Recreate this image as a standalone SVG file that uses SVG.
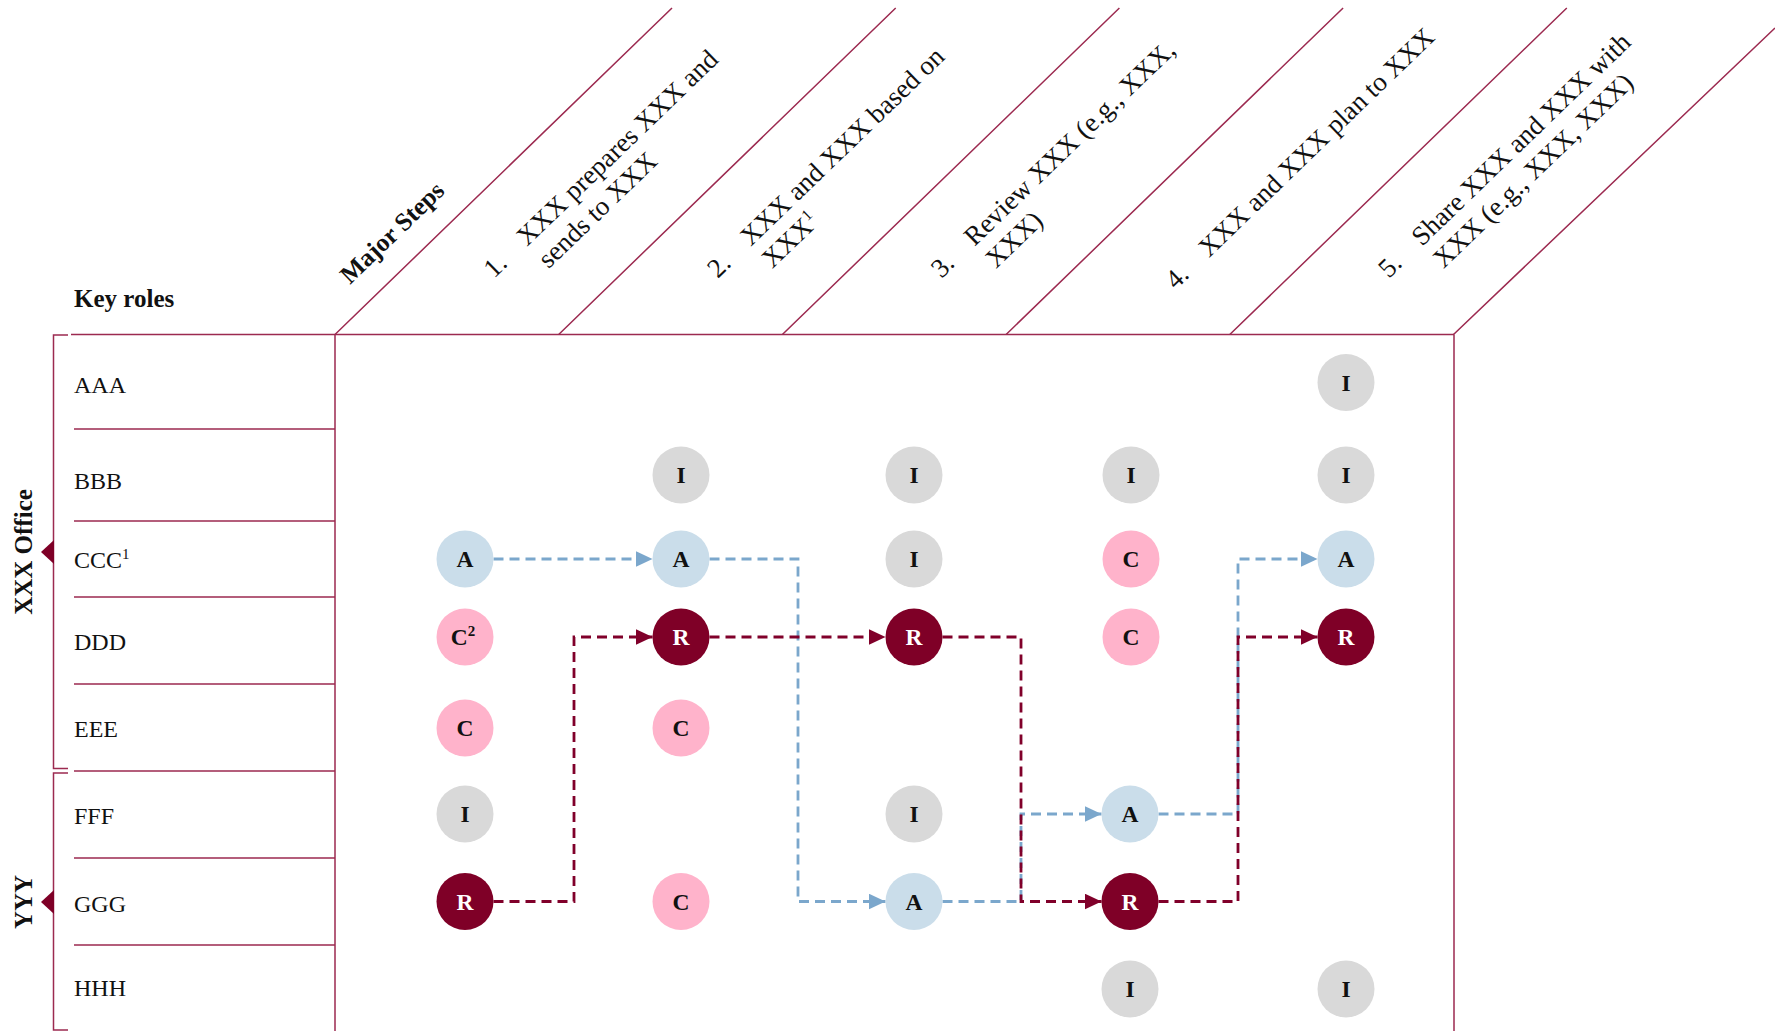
<svg xmlns="http://www.w3.org/2000/svg" width="1775" height="1031" viewBox="0 0 1775 1031">
<defs>
<style>
text { font-family: "Liberation Serif", "Times New Roman", serif; fill:#111; }
.grid { stroke:#9C2A50; stroke-width:1.5; fill:none; }
.role { font-size:24px; }
.hdr { font-size:27px; }
.b { font-weight:bold; }
.cA { fill:#CADDEA; }
.cC { fill:#FFB3CB; }
.cR { fill:#7F0027; }
.cI { fill:#D9D9D9; }
.lbl { font-size:23.5px; font-weight:bold; text-anchor:middle; }
.w { fill:#FFFFFF; }
.cb { stroke:#7BA7CC; stroke-width:2.8; stroke-dasharray:10 6; fill:none; marker-end:url(#ab); }
.cr { stroke:#80002A; stroke-width:2.8; stroke-dasharray:10 6; fill:none; marker-end:url(#ar); }
</style>
<marker id="ab" markerUnits="userSpaceOnUse" markerWidth="17" markerHeight="16" refX="17" refY="8" orient="auto"><path d="M0,0 L17,8 L0,16 z" fill="#7BA7CC"/></marker>
<marker id="ar" markerUnits="userSpaceOnUse" markerWidth="17" markerHeight="16" refX="17" refY="8" orient="auto"><path d="M0,0 L17,8 L0,16 z" fill="#80002A"/></marker>
</defs>
<rect width="1775" height="1031" fill="#FFFFFF"/>

<g id="grid">
<path class="grid" d="M71,334.5 H1454 M335,334.5 V1031 M1454,334.5 V1031"/>
<path class="grid" d="M74,429 H335 M74,521 H335 M74,597 H335 M74,684 H335 M74,771 H335 M74,858 H335 M74,945 H335"/>
<path class="grid" d="M335,334.5 L672,8 M558.7,334.5 L895.7,8 M782.4,334.5 L1119.4,8 M1006.1,334.5 L1343.1,8 M1229.8,334.5 L1566.8,8 M1453.5,334.5 L1775,28"/>
</g>

<g id="group-xxx-office">
<path class="grid" d="M68,335 H53.5 V768.5 H68"/>
<path d="M41,552 L54,540 L54,564 Z" fill="#7F0027"/>
<text class="b" font-size="25" transform="translate(32,552) rotate(-90)" text-anchor="middle">XXX Office</text>
</g>
<g id="group-yyy">
<path class="grid" d="M68,773 H53.5 V1030 H68"/>
<path d="M41,902 L54,890 L54,914 Z" fill="#7F0027"/>
<text class="b" font-size="25" transform="translate(32,902) rotate(-90)" text-anchor="middle">YYY</text>
</g>

<g id="roles">
<text class="b" font-size="25" x="74" y="307">Key roles</text>
<text class="role" x="74" y="393">AAA</text>
<text class="role" x="74" y="489">BBB</text>
<text class="role" x="74" y="568">CCC<tspan font-size="15" dy="-9">1</tspan></text>
<text class="role" x="74" y="650">DDD</text>
<text class="role" x="74" y="737">EEE</text>
<text class="role" x="74" y="824">FFF</text>
<text class="role" x="74" y="912">GGG</text>
<text class="role" x="74" y="996">HHH</text>
</g>

<g id="header">
<text class="b" font-size="25.5" transform="translate(350,285) rotate(-44)">Major Steps</text>
<g id="step1" transform="translate(494,279) rotate(-44)">
<text class="hdr" x="0" y="0">1.</text>
<text class="hdr" x="46" y="0">XXX prepares XXX and</text>
<text class="hdr" x="46" y="31">sends to XXX</text>
</g>
<g id="step2" transform="translate(717.7,279) rotate(-44)">
<text class="hdr" x="0" y="0">2.</text>
<text class="hdr" x="46" y="0">XXX and XXX based on</text>
<text class="hdr" x="46" y="31">XXX<tspan font-size="16" dy="-10">1</tspan></text>
</g>
<g id="step3" transform="translate(941.4,279) rotate(-44)">
<text class="hdr" x="0" y="0">3.</text>
<text class="hdr" x="46" y="0">Review XXX (e.g., XXX,</text>
<text class="hdr" x="46" y="31">XXX)</text>
</g>
<g id="step4" transform="translate(1165.1,279) rotate(-44)">
<text class="hdr" x="0" y="15.5">4.</text>
<text class="hdr" x="46" y="15.5">XXX and XXX plan to XXX</text>
</g>
<g id="step5" transform="translate(1388.8,279) rotate(-44)">
<text class="hdr" x="0" y="0">5.</text>
<text class="hdr" x="46" y="0">Share XXX and XXX with</text>
<text class="hdr" x="46" y="31">XXX (e.g., XXX, XXX)</text>
</g>
</g>

<g id="connectors">
<path class="cb" d="M493.5,559 H652.5"/>
<path class="cb" d="M709.5,559 H798 V901.5 H885.5"/>
<path class="cb" d="M942.5,901.5 H1021 V814 H1101.5"/>
<path class="cb" d="M1158.5,814 H1238 V559 H1317.5"/>
<path class="cr" d="M493.5,901.5 H574 V637 H652.5"/>
<path class="cr" d="M709.5,637 H885.5"/>
<path class="cr" d="M942.5,637 H1021 V901.5 H1101.5"/>
<path class="cr" d="M1158.5,901.5 H1238 V637 H1317.5"/>
</g>

<g id="nodes">
<g id="n1-ccc" transform="translate(465,559)"><circle r="28.5" class="cA"/><text class="lbl" y="8">A</text></g>
<g id="n1-ddd" transform="translate(465,637)"><circle r="28.5" class="cC"/><text class="lbl" y="8" x="-2">C<tspan font-size="15" dy="-9">2</tspan></text></g>
<g id="n1-eee" transform="translate(465,728)"><circle r="28.5" class="cC"/><text class="lbl" y="8">C</text></g>
<g id="n1-fff" transform="translate(465,814)"><circle r="28.5" class="cI"/><text class="lbl" y="8">I</text></g>
<g id="n1-ggg" transform="translate(465,901.5)"><circle r="28.5" class="cR"/><text class="lbl w" y="8">R</text></g>

<g id="n2-bbb" transform="translate(681,475)"><circle r="28.5" class="cI"/><text class="lbl" y="8">I</text></g>
<g id="n2-ccc" transform="translate(681,559)"><circle r="28.5" class="cA"/><text class="lbl" y="8">A</text></g>
<g id="n2-ddd" transform="translate(681,637)"><circle r="28.5" class="cR"/><text class="lbl w" y="8">R</text></g>
<g id="n2-eee" transform="translate(681,728)"><circle r="28.5" class="cC"/><text class="lbl" y="8">C</text></g>
<g id="n2-ggg" transform="translate(681,901.5)"><circle r="28.5" class="cC"/><text class="lbl" y="8">C</text></g>

<g id="n3-bbb" transform="translate(914,475)"><circle r="28.5" class="cI"/><text class="lbl" y="8">I</text></g>
<g id="n3-ccc" transform="translate(914,559)"><circle r="28.5" class="cI"/><text class="lbl" y="8">I</text></g>
<g id="n3-ddd" transform="translate(914,637)"><circle r="28.5" class="cR"/><text class="lbl w" y="8">R</text></g>
<g id="n3-fff" transform="translate(914,814)"><circle r="28.5" class="cI"/><text class="lbl" y="8">I</text></g>
<g id="n3-ggg" transform="translate(914,901.5)"><circle r="28.5" class="cA"/><text class="lbl" y="8">A</text></g>

<g id="n4-bbb" transform="translate(1131,475)"><circle r="28.5" class="cI"/><text class="lbl" y="8">I</text></g>
<g id="n4-ccc" transform="translate(1131,559)"><circle r="28.5" class="cC"/><text class="lbl" y="8">C</text></g>
<g id="n4-ddd" transform="translate(1131,637)"><circle r="28.5" class="cC"/><text class="lbl" y="8">C</text></g>
<g id="n4-fff" transform="translate(1130,814)"><circle r="28.5" class="cA"/><text class="lbl" y="8">A</text></g>
<g id="n4-ggg" transform="translate(1130,901.5)"><circle r="28.5" class="cR"/><text class="lbl w" y="8">R</text></g>
<g id="n4-hhh" transform="translate(1130,989)"><circle r="28.5" class="cI"/><text class="lbl" y="8">I</text></g>

<g id="n5-aaa" transform="translate(1346,382.5)"><circle r="28.5" class="cI"/><text class="lbl" y="8">I</text></g>
<g id="n5-bbb" transform="translate(1346,475)"><circle r="28.5" class="cI"/><text class="lbl" y="8">I</text></g>
<g id="n5-ccc" transform="translate(1346,559)"><circle r="28.5" class="cA"/><text class="lbl" y="8">A</text></g>
<g id="n5-ddd" transform="translate(1346,637)"><circle r="28.5" class="cR"/><text class="lbl w" y="8">R</text></g>
<g id="n5-hhh" transform="translate(1346,989)"><circle r="28.5" class="cI"/><text class="lbl" y="8">I</text></g>
</g>
</svg>
